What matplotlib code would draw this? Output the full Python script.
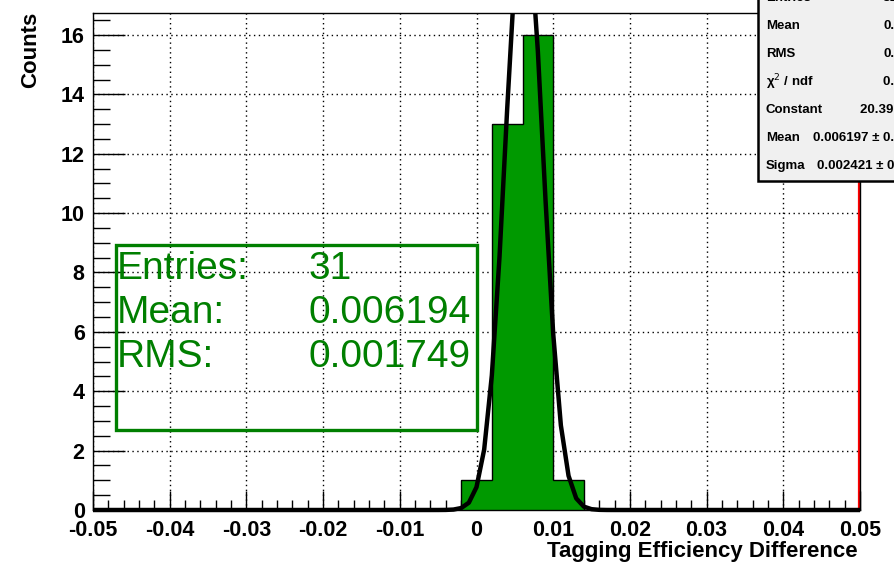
import numpy as np
import matplotlib.pyplot as plt
from matplotlib.patches import Rectangle
from matplotlib.ticker import MultipleLocator
from matplotlib.transforms import Bbox, TransformedBbox, ScaledTranslation

plt.rcParams['font.family'] = ['Liberation Sans', 'DejaVu Sans']
plt.rcParams['axes.unicode_minus'] = False

# histogram: 25 bins from -0.05 to 0.05
bin_lo, bin_hi, nbins = -0.05, 0.05, 25
counts = [0, 0, 0, 0, 0, 0, 0, 0, 0, 0, 0, 0,
          1, 13, 16, 1,
          0, 0, 0, 0, 0, 0, 0, 0, 0]

# gaus fit parameters
fit_const = 20.39
fit_mean = 0.006197
fit_sigma = 0.002421

xticks = [-0.05, -0.04, -0.03, -0.02, -0.01, 0, 0.01, 0.02, 0.03, 0.04, 0.05]
xticklabels = ["-0.05", "-0.04", "-0.03", "-0.02", "-0.01", "0",
               "0.01", "0.02", "0.03", "0.04", "0.05"]
yticks = [0, 2, 4, 6, 8, 10, 12, 14, 16]

stat_names = ["Entries", "Mean", "RMS", "\u03c7$^2$ / ndf", "Constant", "Mean", "Sigma"]
stat_vals = ["31", "0.006194", "0.001749", "0.1795 / 1", "20.39 \u00b1 5.02",
             "0.006197 \u00b1 0.000447", "0.002421 \u00b1 0.000352"]

box_labels = ["Entries:", "Mean:", "RMS:"]
box_vals = ["31", "0.006194", "0.001749"]

W, H = 894, 564
fig = plt.figure(figsize=(W / 100, H / 100), dpi=100)

def fx(px):
    return px / W

def fy(py):
    return 1 - py / H

ax = fig.add_axes([fx(93), fy(510), fx(860) - fx(93), fy(13) - fy(510)])
edges = np.linspace(bin_lo, bin_hi, nbins + 1)
green = '#009900'
ax.stairs(counts, edges, fill=True, color=green, zorder=2)
ax.stairs(counts, edges, color='black', lw=1, zorder=2.1)

# dotted grid under the histogram
for xv in xticks:
    ax.axvline(xv, color='black', linestyle=(0, (1, 2.5)), lw=1, zorder=1)
for yv in yticks:
    ax.axhline(yv, color='black', linestyle=(0, (1, 2.5)), lw=1, zorder=1)

xf = np.linspace(bin_lo, bin_hi, 101)
yf = fit_const * np.exp(-0.5 * ((xf - fit_mean) / fit_sigma) ** 2)
fit_line, = ax.plot(xf, yf, color='black', lw=3.2, zorder=3)
fit_line.set_clip_box(TransformedBbox(Bbox([[0, -0.02], [1, 1]]), ax.transAxes))

# red line at the right edge, just inside the frame
red_line = ax.axvline(bin_hi, color='red', lw=1.6, zorder=1.5)
red_line.set_transform(ax.get_xaxis_transform() +
                       ScaledTranslation(-1.3 / 100, 0, fig.dpi_scale_trans))

ax.set_xlim(bin_lo, bin_hi)
ax.set_ylim(0, 16.74)
ax.set_xticks(xticks)
ax.set_xticklabels(xticklabels)
ax.set_yticks(yticks)
ax.set_yticklabels([str(v) for v in yticks])
ax.xaxis.set_minor_locator(MultipleLocator(0.002))
ax.yaxis.set_minor_locator(MultipleLocator(0.5))
ax.tick_params(axis='x', which='major', direction='in', length=14, width=1,
               labelsize=15.5, pad=7, top=False)
ax.tick_params(axis='x', which='minor', direction='in', length=7, width=1, top=False)
ax.tick_params(axis='y', which='major', direction='in', length=23, width=1,
               labelsize=15.5, pad=6, right=False)
ax.tick_params(axis='y', which='minor', direction='in', length=12, width=1, right=False)
for lab in ax.get_xticklabels() + ax.get_yticklabels():
    lab.set_fontweight('bold')
for s in ax.spines.values():
    s.set_linewidth(1)
    s.set_zorder(4)

fig.text(fx(858), fy(551), "Tagging Efficiency Difference", ha='right', va='center',
         fontsize=16, fontweight='bold')
fig.text(fx(31), fy(12), "Counts", ha='center', va='top', rotation=90,
         fontsize=16, fontweight='bold')

# green summary box
dgreen = '#007f00'
fig.patches.append(Rectangle((fx(116), fy(430)), fx(477) - fx(116), fy(245) - fy(430),
                             transform=fig.transFigure, fill=False, edgecolor=dgreen,
                             lw=2.4, zorder=5))
for i, (lab, val) in enumerate(zip(box_labels, box_vals)):
    yb = 279 + 44 * i
    fig.text(fx(117), fy(yb), lab, ha='left', va='baseline', fontsize=28,
             color=dgreen, zorder=6)
    fig.text(fx(309), fy(yb), val, ha='left', va='baseline', fontsize=28,
             color=dgreen, zorder=6)

# ROOT stats box, clipped by the canvas
fig.patches.append(Rectangle((fx(758), fy(181)), fx(1000) - fx(758), fy(-30) - fy(181),
                             transform=fig.transFigure, facecolor='#f0f0f0',
                             edgecolor='black', lw=1.8, zorder=7))
val_x = [883, 883, 883, 883, 860, 813, 817]
for i, (name, val) in enumerate(zip(stat_names, stat_vals)):
    yc = -2 + 28 * i
    fig.text(fx(766), fy(yc), name, ha='left', va='center', fontsize=9.5,
             fontweight='bold', zorder=8)
    fig.text(fx(val_x[i]), fy(yc), val, ha='left', va='center', fontsize=9.5,
             fontweight='bold', zorder=8)

fig.savefig('out.png', dpi=100)
